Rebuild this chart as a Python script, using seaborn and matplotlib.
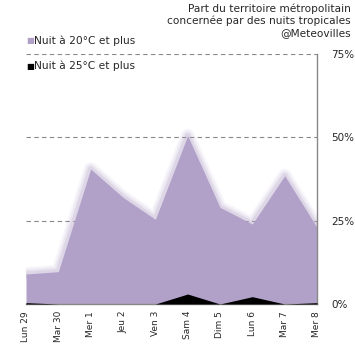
import matplotlib
matplotlib.use("Agg")
import matplotlib.pyplot as plt
import seaborn as sns
import pandas as pd

# Daily share of mainland France with tropical nights (%)
days = ["Lun 29", "Mar 30", "Mer 1", "Jeu 2", "Ven 3",
        "Sam 4", "Dim 5", "Lun 6", "Mar 7", "Mer 8"]
pct_20 = [9.0, 9.7, 40.5, 32.0, 25.4, 50.5, 29.0, 24.0, 38.5, 23.0]
pct_25 = [0.4, 0.0, 0.0, 0.0, 0.0, 3.0, 0.0, 2.2, 0.0, 0.4]
yticks = [0, 25, 50, 75]

PURPLE = "#B1A1C8"

sns.set_theme(style="white")
plt.rcParams["font.family"] = ["DejaVu Sans"]

df = pd.DataFrame({"pos": range(len(days)), "p20": pct_20, "p25": pct_25})

fig = plt.figure(figsize=(3.55, 3.55), dpi=100)
ax = fig.add_axes([26 / 355, 51 / 355, 291 / 355, 250 / 355])

# dashed gridlines behind the areas
for v in yticks[1:]:
    ax.axhline(v, color="#888888", lw=0.8, ls=(0, (4, 3)), zorder=0)

# soft glow around the top edge of the purple area
for lw, a in [(10, 0.10), (7, 0.15), (4, 0.25)]:
    sns.lineplot(data=df, x="pos", y="p20", ax=ax, color=PURPLE,
                 lw=lw, alpha=a, zorder=1, solid_joinstyle="round")

ax.fill_between(df["pos"], 0, df["p20"], color=PURPLE, lw=0, zorder=2)
ax.fill_between(df["pos"], 0, df["p25"], color="black", lw=0, zorder=3)

ax.set_xlim(0, len(days) - 1)
ax.set_ylim(0, 75)
ax.set_xticks(range(len(days)))
ax.set_xticklabels(days, rotation=90, fontsize=6.5)
ax.set_yticks(yticks)
ax.set_yticklabels([f"{v}%" for v in yticks], fontsize=7.5)
ax.yaxis.tick_right()
ax.tick_params(axis="y", length=0, pad=10)
ax.tick_params(axis="x", length=0, pad=5)
ax.set_xlabel("")
ax.set_ylabel("")

for side in ["left", "top"]:
    ax.spines[side].set_visible(False)
for side in ["right", "bottom"]:
    ax.spines[side].set_color("#888888")
    ax.spines[side].set_linewidth(1)

fig.text(351 / 355, 1 - 3 / 355,
         "Part du territoire métropolitain\nconcernée par des nuits tropicales\n@Meteovilles",
         ha="right", va="top", fontsize=7.6, linespacing=1.25)

# legend entries
for y, col, label in [(41, PURPLE, "Nuit à 20°C et plus"),
                      (66, "black", "Nuit à 25°C et plus")]:
    fig.text(26 / 355, 1 - y / 355, "■", color=col, fontsize=6, va="center")
    fig.text(34 / 355, 1 - y / 355, label, fontsize=7.7, va="center")

fig.savefig("out.png", dpi=100)
